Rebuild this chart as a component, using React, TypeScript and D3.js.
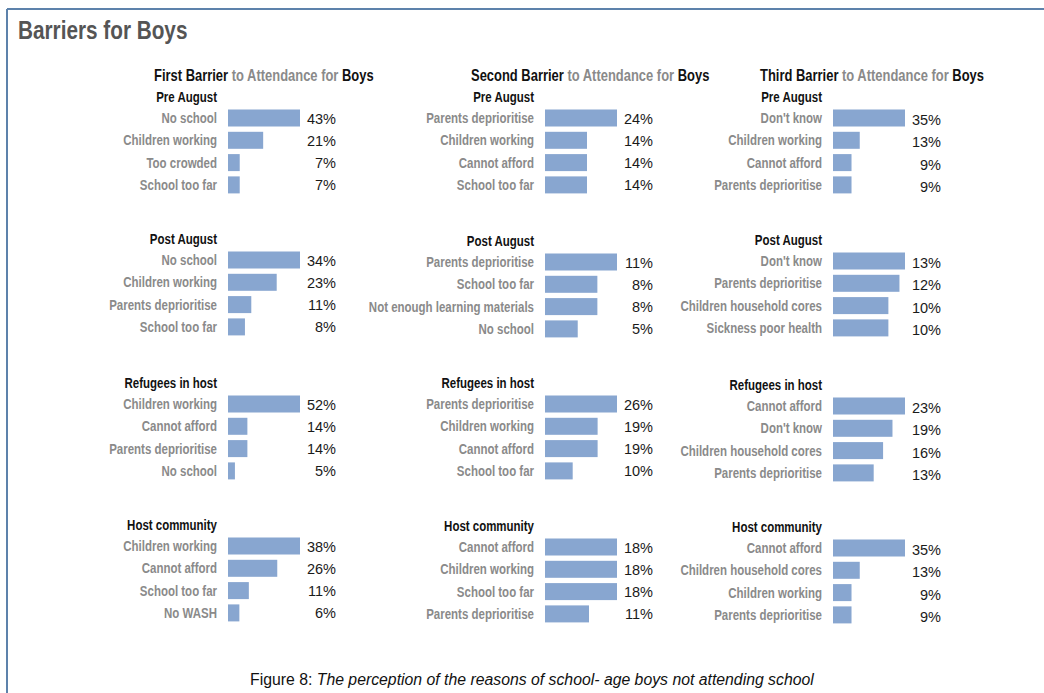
import React from "react";
import * as d3 from "d3";

const columnTitles = ["First Barrier", "Second Barrier", "Third Barrier"];
const groupTitles = ["Pre August", "Post August", "Refugees in host", "Host community"];

const firstLabels = [
  ["No school", "Children working", "Too crowded", "School too far"],
  ["No school", "Children working", "Parents deprioritise", "School too far"],
  ["Children working", "Cannot afford", "Parents deprioritise", "No school"],
  ["Children working", "Cannot afford", "School too far", "No WASH"],
];
const firstValues = [
  [43, 21, 7, 7],
  [34, 23, 11, 8],
  [52, 14, 14, 5],
  [38, 26, 11, 6],
];

const secondLabels = [
  ["Parents deprioritise", "Children working", "Cannot afford", "School too far"],
  ["Parents deprioritise", "School too far", "Not enough learning materials", "No school"],
  ["Parents deprioritise", "Children working", "Cannot afford", "School too far"],
  ["Cannot afford", "Children working", "School too far", "Parents deprioritise"],
];
const secondValues = [
  [24, 14, 14, 14],
  [11, 8, 8, 5],
  [26, 19, 19, 10],
  [18, 18, 18, 11],
];

const thirdLabels = [
  ["Don't know", "Children working", "Cannot afford", "Parents deprioritise"],
  ["Don't know", "Parents deprioritise", "Children household cores", "Sickness poor health"],
  ["Cannot afford", "Don't know", "Children household cores", "Parents deprioritise"],
  ["Cannot afford", "Children household cores", "Children working", "Parents deprioritise"],
];
const thirdValues = [
  [35, 13, 9, 9],
  [13, 12, 10, 10],
  [23, 19, 16, 13],
  [35, 13, 9, 9],
];

const W = 1044;
const H = 693;
const SANS = "'Liberation Sans', Arial, Helvetica, sans-serif";
const SX = 0.82; // horizontal squeeze to imitate a condensed face
const BAR = "#88a6d0";
const GREY = "#8a8a8a";

const labelRight = [217, 534, 822];
const headerLeft = [154, 471, 760];
const valueShift = [0, 0, 1.5];
const groupTitleY = [
  [97, 239, 383, 525],
  [97, 241, 383, 526],
  [97, 240, 385, 527],
];

const allLabels = [firstLabels, secondLabels, thirdLabels];
const allValues = [firstValues, secondValues, thirdValues];

function Narrow({ x, y, anchor = "start", size, fill, children }: any) {
  return (
    <g transform={`translate(${x},${y}) scale(${SX},1)`}>
      <text x={0} y={0} textAnchor={anchor} fontFamily={SANS} fontWeight="bold" fontSize={size} fill={fill}>
        {children}
      </text>
    </g>
  );
}

const STEP = 22.3;
const BH = 17;

function Panel({ col, g }: { col: number; g: number }) {
  const labels = allLabels[col][g];
  const values = allValues[col][g];
  const ty = groupTitleY[col][g];
  const x0 = labelRight[col] + 11;
  const x = d3.scaleLinear().domain([0, d3.max(values) as number]).range([0, 72]);
  const y = d3
    .scaleBand<string>()
    .domain(labels.map((_, i) => String(i)))
    .range([ty + 12.5, ty + 12.5 + STEP * 3 + BH])
    .paddingInner((STEP - BH) / STEP)
    .paddingOuter(0);
  return (
    <g>
      <Narrow x={labelRight[col]} y={ty + 5} anchor="end" size={14} fill="#111">
        {groupTitles[g]}
      </Narrow>
      {labels.map((lab, i) => {
        const yy = y(String(i)) as number;
        const cy = yy + y.bandwidth() / 2;
        return (
          <g key={i}>
            <Narrow x={labelRight[col]} y={cy + 5} anchor="end" size={14} fill={GREY}>
              {lab}
            </Narrow>
            <rect x={x0} y={yy} width={x(values[i])} height={y.bandwidth()} fill={BAR} />
            <text x={x0 + 108} y={cy + 5.5 + valueShift[col]} textAnchor="end" fontFamily={SANS} fontSize={14.5} fill="#1a1a1a">
              {values[i]}%
            </text>
          </g>
        );
      })}
    </g>
  );
}

export default function App() {
  return (
    <div style={{ position: "absolute", left: 0, top: 0 }}>
      <svg width={W} height={H} style={{ display: "block", background: "#fff" }}>
        <line x1={7} y1={9} x2={W} y2={9} stroke="#5d82ab" strokeWidth={2} />
        <line x1={7} y1={9} x2={7} y2={H} stroke="#5d82ab" strokeWidth={2} />
        <Narrow x={18} y={39} size={25.3} fill="#555">
          Barriers for Boys
        </Narrow>
        {columnTitles.map((t, c) => (
          <Narrow key={c} x={headerLeft[c]} y={81} size={15.8} fill="#111">
            <tspan>{t}</tspan>
            <tspan fill={GREY}> to Attendance for </tspan>
            <tspan>Boys</tspan>
          </Narrow>
        ))}
        {[0, 1, 2].map((c) => [0, 1, 2, 3].map((g) => <Panel key={`${c}-${g}`} col={c} g={g} />))}
        <text x={250} y={685} fontFamily={SANS} fontSize={15.8} fill="#111">
          <tspan>Figure 8: </tspan>
          <tspan fontStyle="italic">The perception of the reasons of school- age boys not attending school</tspan>
        </text>
      </svg>
    </div>
  );
}
